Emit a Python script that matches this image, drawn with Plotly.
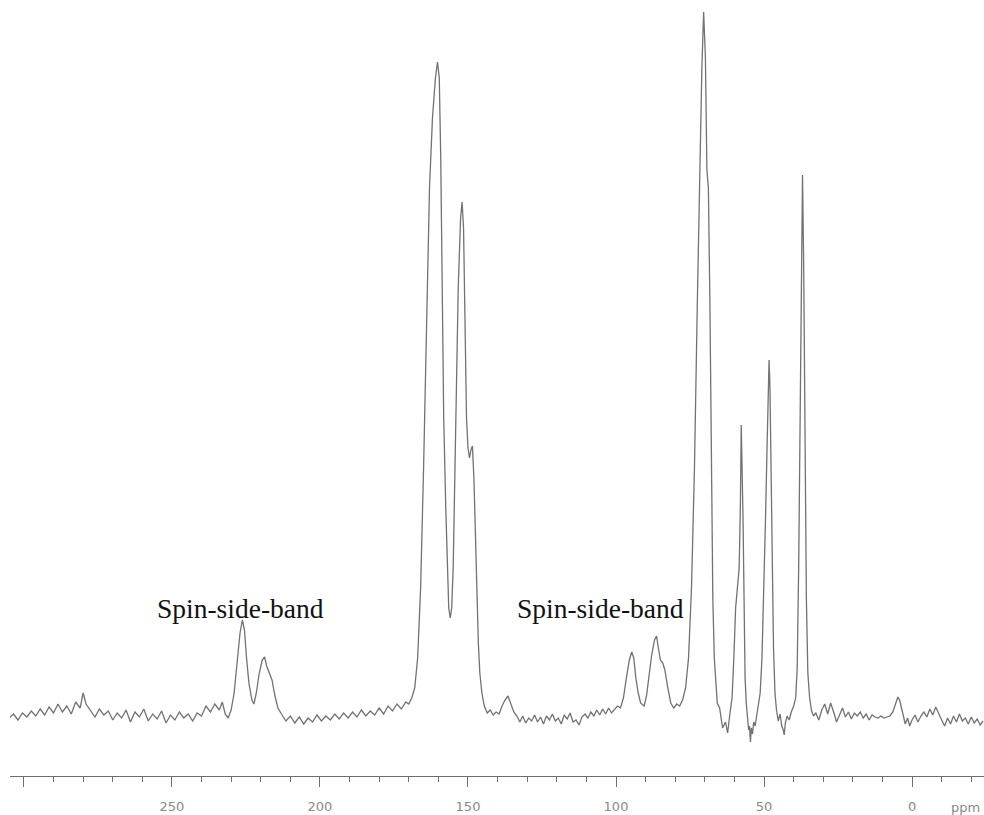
import plotly.graph_objects as go

# ---- Spectrum: chemical shift (ppm) and intensity (a.u.) ----
ppm_left = [305, 303.5, 302, 300.5, 299, 297.5, 296, 294.5, 293, 291.5, 290, 288.5, 287, 285.5, 284,
            282.5, 281, 280, 279, 277.5, 276, 274.5, 273, 271.5, 270, 268.5, 267, 265.5, 264, 262.5,
            261, 259.5, 258, 256.5, 255, 253.5, 252, 250.5, 249, 247.5, 246, 244.5, 243, 241.5, 240,
            238.5, 237, 235.5, 234, 233, 232, 231]
int_left = [0, 4, -2, 5, 1, 7, 2, 9, 3, 11, 5, 14, 6, 12, 4,
            16, 10, 25, 14, 8, 1, 9, 3, 7, -2, 5, 0, 8, -4, 6,
            1, 9, -3, 4, -1, 7, -5, 3, -2, 6, 0, 4, -3, 5, 2,
            12, 6, 14, 8, 16, 4, 0]

ppm_sb_high = [230, 229, 228, 227, 226.2, 225.5, 224.8, 224, 223, 222.3, 221.5, 220.5, 219.5, 218.7,
               218, 217, 216.2, 215.2, 214.2, 213]
int_sb_high = [8, 25, 55, 85, 98, 88, 60, 35, 18, 14, 25, 45, 58, 61,
               52, 44, 38, 22, 10, 4]

ppm_mid = [211.5, 210, 208.5, 207, 205.5, 204, 202.5, 201, 199.5, 198, 196.5, 195, 193.5, 192, 190.5,
           189, 187.5, 186, 184.5, 183, 181.5, 180, 178.5, 177, 175.5, 174, 172.5, 171, 170, 169]
int_mid = [-3, 2, -5, 1, -6, 0, -4, 3, -3, 2, -2, 4, -1, 5, 0,
           6, 1, 8, 2, 7, 3, 10, 4, 12, 7, 14, 9, 16, 14, 20]

ppm_arom = [168, 167, 166, 165, 164, 163, 162, 161, 160.3, 159.7, 159.2, 158.7, 158.2, 157.5, 157,
            156.5, 156, 155.5, 155, 154.5, 154, 153.3, 152.5, 152, 151.5, 151, 150.5, 150, 149.5,
            149, 148.5, 148, 147.5, 147, 146.5, 146, 145.3, 144.5, 143.5, 142.5, 141.5, 140.5,
            139.5, 138.5, 137.5, 136.5, 135.5, 134.5, 133.5]
int_arom = [30, 60, 130, 250, 400, 530, 600, 640, 656, 640, 560, 420, 300, 210, 150,
            110, 100, 110, 150, 230, 330, 430, 500, 516, 490, 400, 300, 270, 260,
            268, 272, 240, 180, 120, 75, 45, 25, 12, 5, 8, 3, 6,
            4, 12, 18, 22, 14, 6, 2]

ppm_mid2 = [132.5, 131.5, 130.5, 129.5, 128.5, 127.5, 126.5, 125.5, 124.5, 123.5, 122.5, 121.5, 120.5,
            119.5, 118.5, 117.5, 116.5, 115.5, 114.5, 113.5, 112.5, 111.5, 110.5, 109.5, 108.5,
            107.5, 106.5, 105.5, 104.5, 103.5, 102.5, 101.5, 100.5, 99.5, 98.5]
int_mid2 = [-4, 2, -5, 0, -3, 3, -4, 1, -6, 2, -2, 4, -3,
            0, -6, 3, -1, 5, -4, -2, -7, 1, 4, 0, 6,
            2, 8, 3, 9, 4, 10, 5, 8, 12, 10]

ppm_sb_low = [97.5, 96.5, 95.5, 94.7, 94, 93.3, 92.5, 91.7, 90.5, 89.7, 89, 88, 87, 86.3, 85.7, 85,
              84.2, 83.5, 82.5, 81.5, 80.5, 79.5, 78.5, 77.5, 76.5]
int_sb_low = [20, 40, 58, 66, 60, 40, 25, 15, 12, 22, 40, 62, 78, 82, 70, 58,
              55, 48, 30, 15, 10, 14, 12, 18, 30]

ppm_aliph = [75.5, 74.5, 73.5, 72.5, 71.5, 71, 70.4, 69.8, 69.3, 68.8, 68.3, 67.8, 67.3, 66.8, 66.3,
             65.8, 65, 64.5, 64, 63, 62.3, 61.5, 60.8, 60.2, 59.6, 59, 58.4, 58, 57.7, 57.1, 56.8,
             56.4, 56, 55.6, 55.2, 54.9, 54.6, 54.3, 53.9, 53.5, 53, 52.5, 52, 51.3, 50.7, 50, 49.5,
             49, 48.5, 48.3, 48, 47.7, 47.3, 46.8, 46.3, 45.8, 45.2, 44.6, 44, 43.5, 43.2, 42.8,
             42.2, 41.5, 40.8, 40, 39.3, 38.8, 38.3, 37.8, 37.4, 37.0, 36.6, 36.2, 35.7, 35.2,
             34.6, 34, 33.3]
int_aliph = [60, 130, 250, 420, 580, 650, 706, 660, 548, 530, 420, 250, 120, 60, 30,
             15, 10, 0, -10, -4, -15, 5, 20, 60, 110, 130, 150, 210, 293, 200, 100,
             40, 15, -2, -12, -8, -24, -10, -16, -4, -8, 2, 10, 25, 60, 130, 200,
             268, 340, 358, 330, 260, 150, 70, 25, 8, -3, 4, -8, -12, -17, -5,
             2, -2, 6, 12, 20, 50, 150, 300, 450, 543, 450, 280, 120, 45,
             20, 8, 2]

ppm_right = [32.5, 31.5, 30.5, 29.5, 28.5, 27.5, 26.5, 25.5, 24.5, 23.5, 22.5, 21.5, 20.5, 19.5, 18.5,
             17.5, 16.5, 15.5, 14.5, 13.5, 12.5, 11.5, 10.5, 9.5, 8.5, 7.5, 6.5, 5.5, 4.8, 4.2, 3.5,
             3, 2.3, 1.5, 0.8, 0, -1, -2, -3, -4, -5, -6, -7, -8, -9, -10, -11, -12, -13, -14, -15,
             -16, -17, -18, -19, -20, -21, -22, -23, -24]
int_right = [5, -2, 8, 14, 4, 15, 6, -4, 3, 10, 1, 6, -1, 5, 2,
             6, 0, 4, -2, 3, 1, 0, 2, 0, 1, 2, 6, 14, 21, 18, 10,
             4, -6, 0, -8, -2, 3, -4, 2, 6, 1, 9, 3, 11, 4, -2, -8, 0, -6, 2, -4,
             4, -3, 0, -6, 1, -5, -1, -7, -3]

tick_values = [300, 250, 200, 150, 100, 50, 0]
tick_labels = ["", "250", "200", "150", "100", "50", "0"]

ppm = ppm_left + ppm_sb_high + ppm_mid + ppm_arom + ppm_mid2 + ppm_sb_low + ppm_aliph + ppm_right
intensity = int_left + int_sb_high + int_mid + int_arom + int_mid2 + int_sb_low + int_aliph + int_right

fig = go.Figure()
fig.add_trace(go.Scatter(x=ppm, y=intensity, mode="lines",
                         line=dict(color="#727272", width=1.3), showlegend=False,
                         hoverinfo="skip"))

label_font = dict(family="Liberation Serif", size=27.5, color="#111111")
fig.add_annotation(x=227, y=110, text="Spin-side-band", showarrow=False, font=label_font)
fig.add_annotation(x=105.4, y=110, text="Spin-side-band", showarrow=False, font=label_font)
fig.add_annotation(x=-18.2, xref="x", y=0, yref="paper", yanchor="top", yshift=-22,
                   text="ppm", showarrow=False,
                   font=dict(family="DejaVu Sans", size=13, color="#8a8a8a"))

fig.update_layout(
    width=984, height=815,
    margin=dict(l=10, r=0, t=0, b=39),
    paper_bgcolor="white", plot_bgcolor="white",
    xaxis=dict(range=[304.7, -24.3], showgrid=False, zeroline=False,
               showline=True, linecolor="#6e6e6e", linewidth=1.2,
               ticks="outside", tickcolor="#6e6e6e", ticklen=10, tickwidth=1,
               tickvals=tick_values, ticktext=tick_labels,
               tickfont=dict(family="DejaVu Sans", size=13, color="#8a8a8a"),
               ticklabelstandoff=8,
               minor=dict(dtick=10, ticks="outside", ticklen=5, tickcolor="#6e6e6e", tick0=0)),
    yaxis=dict(range=[-58, 718], visible=False, showgrid=False, zeroline=False),
)

fig.write_html("out.html", config={"displayModeBar": False},
               post_script="document.body.style.margin='0';document.body.style.overflow='hidden';")
